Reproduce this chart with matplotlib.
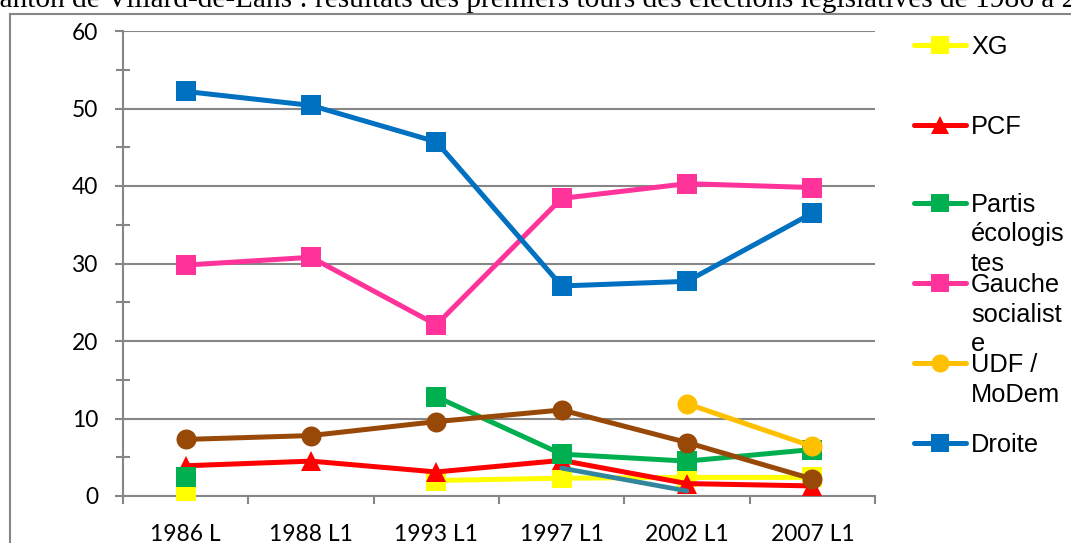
import numpy as np
import matplotlib
matplotlib.use("Agg")
import matplotlib.pyplot as plt
from matplotlib.lines import Line2D
from matplotlib.ticker import MultipleLocator, FixedLocator

nan = np.nan
categories = ["1986 L", "1988 L1", "1993 L1", "1997 L1", "2002 L1", "2007 L1"]
xg = [0.7, nan, 2.0, 2.3, 2.4, 2.4]
pcf = [3.9, 4.5, 3.1, 4.6, 1.6, 1.3]
eco = [2.5, nan, 12.8, 5.4, 4.5, 6.0]
ps = [29.8, 30.8, 22.1, 38.4, 40.3, 39.8]
udf = [nan, nan, nan, nan, 11.9, 6.4]
droite = [52.2, 50.4, 45.7, 27.1, 27.7, 36.5]
fn = [7.3, 7.8, 9.6, 11.1, 6.9, 2.2]
autre = [nan, nan, nan, 3.6, 0.65, nan]

title = "Canton de Villard-de-Lans : résultats des premiers tours des élections législatives de 1986 à 2007"

W, H = 1071, 543
fig = plt.figure(figsize=(W / 100, H / 100), dpi=100)
ax = fig.add_axes([123 / W, (H - 496) / H, (875 - 123) / W, (496 - 31) / H])

gray = "#868686"
x = np.arange(len(categories))

series = [
    ("XG", xg, "#FFFF00", "s", 14.4),
    ("PCF", pcf, "#FF0000", "^", 15),
    ("Partis\nécologis\ntes", eco, "#00B050", "s", 14.4),
    ("Gauche\nsocialist\ne", ps, "#FF3399", "s", 14.4),
    ("UDF /\nMoDem", udf, "#FFC000", "o", 14.4),
    ("Droite", droite, "#0070C0", "s", 14.4),
    ("FN", fn, "#984807", "o", 14.4),
]
z = 3
for name, vals, col, mk, ms in series:
    ax.plot(x, vals, color=col, lw=3.6, marker=mk, ms=ms, mew=0,
            solid_capstyle="round", solid_joinstyle="round", zorder=z, clip_on=False)
    z += 1
ax.plot(x, autre, color="#31859C", lw=3.4, solid_capstyle="round", zorder=z, clip_on=False)

ax.set_xlim(-0.5, len(categories) - 0.5)
ax.set_ylim(0, 60)
ax.yaxis.set_major_locator(MultipleLocator(10))
ax.yaxis.set_minor_locator(FixedLocator(np.arange(5, 60, 10)))
ax.set_xticks(x)
ax.set_xticklabels(categories)
ax.xaxis.set_minor_locator(FixedLocator(np.arange(-0.5, len(categories), 1.0)))

for s in ["top", "right"]:
    ax.spines[s].set_visible(False)
for s in ["left", "bottom"]:
    ax.spines[s].set_color(gray)
    ax.spines[s].set_linewidth(1.5)
    ax.spines[s].set_zorder(2.5)
ax.grid(axis="y", which="major", color=gray, lw=1.5, zorder=1)
ax.set_axisbelow(True)

ax.tick_params(axis="y", which="major", direction="out", length=5.8, width=1.5, color=gray, pad=12)
ax.tick_params(axis="y", which="minor", direction="inout", length=9.4, width=1.5, color=gray)
ax.tick_params(axis="x", which="major", length=0, pad=20)
ax.tick_params(axis="x", which="minor", direction="out", length=5.8, width=1.5, color=gray)
for lab in ax.get_xticklabels() + ax.get_yticklabels():
    lab.set_fontfamily("Lato")
    lab.set_fontsize(16.4)
    lab.set_color("black")

# outer frame (partially visible)
fig.add_artist(Line2D([10 / W, 10 / W], [0, 1 - 14 / H], transform=fig.transFigure, color=gray, lw=1.5))
fig.add_artist(Line2D([10 / W, 1], [1 - 14 / H, 1 - 14 / H], transform=fig.transFigure, color=gray, lw=1.5))

# title (clipped at top)
fig.text(-19.8 / W, 1 - 7 / H, title, family="Liberation Serif", size=21.2, va="baseline", ha="left")

# legend (first six series)
leg_y = [45, 125, 203, 283, 363, 443]
line_gap = 29.5
for (name, vals, col, mk, ms), yy in zip(series[:6], leg_y):
    yf = 1 - yy / H
    fig.add_artist(Line2D([914 / W, 966 / W], [yf, yf], transform=fig.transFigure, color=col,
                          lw=3.6, solid_capstyle="round"))
    fig.add_artist(Line2D([940 / W], [yf], transform=fig.transFigure, color=col, marker=mk,
                          ms=ms * 0.9, mew=0, lw=0))
    for k, part in enumerate(name.split("\n")):
        fig.text(971 / W, 1 - (yy + 9 + k * line_gap) / H, part, family="Liberation Sans", size=18.3,
                 va="baseline", ha="left")

fig.savefig("out.png", dpi=100)
